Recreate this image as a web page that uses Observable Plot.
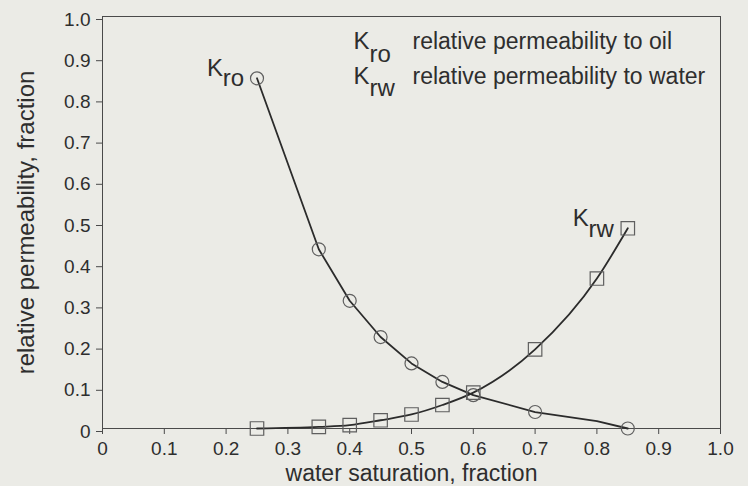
<!DOCTYPE html>
<html>
<head>
<meta charset="utf-8">
<script src="https://cdn.jsdelivr.net/npm/d3@7"></script>
<script src="https://cdn.jsdelivr.net/npm/@observablehq/plot@0.6"></script>
<style>
  html, body { margin: 0; padding: 0; background: #ebebe6; }
</style>
</head>
<body>
<div id="chart"></div>
<script>
// Water saturation where markers are drawn
const swKro = [0.25, 0.35, 0.40, 0.45, 0.50, 0.55, 0.60, 0.70, 0.85];
const kroPts = [0.85, 0.435, 0.31, 0.222, 0.158, 0.113, 0.081, 0.040, 0.0];
const swKrw = [0.25, 0.35, 0.40, 0.45, 0.50, 0.55, 0.60, 0.70, 0.80, 0.85];
const krwPts = [0.0, 0.004, 0.008, 0.020, 0.034, 0.057, 0.087, 0.192, 0.364, 0.486];
// Curve nodes (Kro line bends at 0.8 where no marker is drawn)
const swKroLine = [0.25, 0.35, 0.40, 0.45, 0.50, 0.55, 0.60, 0.70, 0.80, 0.85];
const kroLine = [0.85, 0.435, 0.31, 0.222, 0.158, 0.113, 0.081, 0.040, 0.018, 0.0];

const xTicks = [0, 0.1, 0.2, 0.3, 0.4, 0.5, 0.6, 0.7, 0.8, 0.9, 1.0];
const xTickLabels = ["0", "0.1", "0.2", "0.3", "0.4", "0.5", "0.6", "0.7", "0.8", "0.9", "1.0"];
const yTicks = [0, 0.1, 0.2, 0.3, 0.4, 0.5, 0.6, 0.7, 0.8, 0.9, 1.0];
const yTickLabels = ["0", "0.1", "0.2", "0.3", "0.4", "0.5", "0.6", "0.7", "0.8", "0.9", "1.0"];

const xLabel = "water saturation, fraction";
const yLabel = "relative permeability, fraction";
const legendSymbols = ["K", "K"];
const legendSubs = ["ro", "rw"];
const legendTexts = ["relative permeability to oil", "relative permeability to water"];

const kroData = swKro.map((x, i) => ({x, y: kroPts[i]}));
const krwData = swKrw.map((x, i) => ({x, y: krwPts[i]}));
const kroLineData = swKroLine.map((x, i) => ({x, y: kroLine[i]}));

const FONT = "Liberation Sans";
const textColor = "#2e2e2e";
const lineColor = "#2b2b2b";
const markColor = "#5f5f5f";
const axisColor = "#4a4a4a";
const LBL = 24;
const TXT = 23;
const TICK = 19;

const plot = Plot.plot({
  width: 748,
  height: 486,
  marginLeft: 102,
  marginRight: 28,
  marginTop: 16,
  marginBottom: 58,
  style: {background: "#ebebe6", fontFamily: FONT, fontSize: "23px", color: textColor},
  x: {domain: [0, 1]},
  y: {domain: [0, 1]},
  marks: [
    Plot.frame({stroke: axisColor, strokeWidth: 1}),
    Plot.axisX({ticks: xTicks, tickFormat: (d) => xTickLabels[xTicks.indexOf(d)], tickSize: 6, tickPadding: 7, label: null, stroke: axisColor, fill: textColor, fontSize: TICK}),
    Plot.axisY({ticks: yTicks, tickFormat: (d) => yTickLabels[yTicks.indexOf(d)], tickSize: 6, tickPadding: 6, label: null, stroke: axisColor, fill: textColor, fontSize: TICK, dy: 3}),
    Plot.line(kroLineData, {x: "x", y: "y", curve: "linear", stroke: lineColor, strokeWidth: 1.8}),
    Plot.line(krwData, {x: "x", y: "y", curve: "monotone-x", stroke: lineColor, strokeWidth: 1.8}),
    Plot.dot(kroData, {x: "x", y: "y", r: 6.5, stroke: markColor, strokeWidth: 1.2, fill: "none"}),
    Plot.dot(krwData, {x: "x", y: "y", r: 7.6, symbol: "square", stroke: markColor, strokeWidth: 1.2, fill: "none"}),
    // curve labels
    Plot.text([kroData[0]], {x: "x", y: "y", text: () => "K", textAnchor: "end", lineAnchor: "bottom", dx: -34, dy: -2, fontSize: LBL, fill: textColor}),
    Plot.text([kroData[0]], {x: "x", y: "y", text: () => "ro", textAnchor: "end", lineAnchor: "bottom", dx: -13, dy: 8, fontSize: LBL, fill: textColor}),
    Plot.text([krwData[krwData.length - 1]], {x: "x", y: "y", text: () => "K", textAnchor: "end", lineAnchor: "bottom", dx: -39, dy: -2, fontSize: LBL, fill: textColor}),
    Plot.text([krwData[krwData.length - 1]], {x: "x", y: "y", text: () => "rw", textAnchor: "end", lineAnchor: "bottom", dx: -14, dy: 9, fontSize: LBL, fill: textColor}),
    // legend
    Plot.text([0], {frameAnchor: "top-left", text: () => legendSymbols[0], textAnchor: "start", lineAnchor: "bottom", dx: 251, dy: 32.5, fontSize: LBL, fill: textColor}),
    Plot.text([0], {frameAnchor: "top-left", text: () => legendSubs[0], textAnchor: "start", lineAnchor: "bottom", dx: 267, dy: 45.5, fontSize: LBL, fill: textColor}),
    Plot.text([0], {frameAnchor: "top-left", text: () => legendTexts[0], textAnchor: "start", lineAnchor: "bottom", dx: 310, dy: 32.5, fontSize: TXT, fill: textColor}),
    Plot.text([0], {frameAnchor: "top-left", text: () => legendSymbols[1], textAnchor: "start", lineAnchor: "bottom", dx: 251, dy: 67.5, fontSize: LBL, fill: textColor}),
    Plot.text([0], {frameAnchor: "top-left", text: () => legendSubs[1], textAnchor: "start", lineAnchor: "bottom", dx: 267, dy: 79.5, fontSize: LBL, fill: textColor}),
    Plot.text([0], {frameAnchor: "top-left", text: () => legendTexts[1], textAnchor: "start", lineAnchor: "bottom", dx: 310, dy: 67.5, fontSize: TXT, fill: textColor}),
    // axis titles
    Plot.text([0], {frameAnchor: "bottom", text: () => xLabel, textAnchor: "middle", lineAnchor: "bottom", dy: 52, fontSize: TXT, fill: textColor, letterSpacing: "0.4px"}),
    Plot.text([0], {frameAnchor: "left", text: () => yLabel, rotate: -90, textAnchor: "middle", lineAnchor: "bottom", dx: -69, fontSize: LBL, fill: textColor})
  ]
});
document.getElementById("chart").appendChild(plot);
</script>
</body>
</html>
